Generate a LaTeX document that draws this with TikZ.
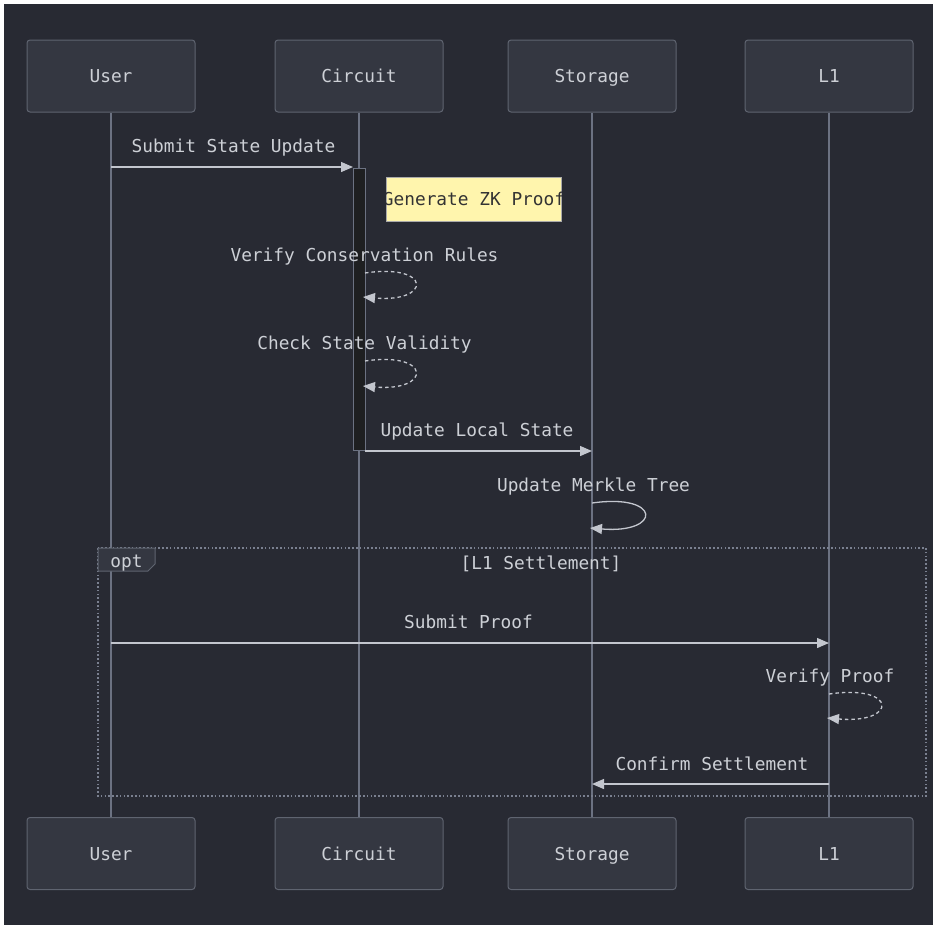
\documentclass[tikz,border=0pt]{standalone}
\usepackage{fontspec}
\setmonofont{DejaVu Sans Mono}
\usetikzlibrary{arrows.meta}
\definecolor{bgc}{HTML}{282A33}
\definecolor{actfill}{HTML}{343741}
\definecolor{actborder}{HTML}{5F6470}
\definecolor{lifec}{HTML}{6C7282}
\definecolor{txtc}{HTML}{CDD0D6}
\definecolor{msgc}{HTML}{C3C6CE}
\definecolor{notefill}{HTML}{FFF5AD}
\definecolor{noteborder}{HTML}{AAAAAA}
\definecolor{activfill}{HTML}{1E1F21}
\definecolor{framec}{HTML}{7A8090}
\tikzset{
  lbl/.style={font=\ttfamily\fontsize{17.8}{20}\selectfont, text=txtc, inner sep=0pt, anchor=base},
  actor/.style={draw=actborder, fill=actfill, rounded corners=3pt, line width=1pt,
    minimum width=168pt, minimum height=72pt, inner sep=0pt},
  life/.style={draw=lifec, line width=1.5pt},
  msg/.style={draw=msgc, line width=1.3pt, -{Triangle[length=12pt,width=10pt]}},
  dmsg/.style={msg, dash pattern=on 3.5pt off 3pt},
  activ/.style={draw=lifec, fill=activfill, line width=1pt, minimum width=12pt, minimum height=282pt, inner sep=0pt},
  notebox/.style={draw=noteborder, fill=notefill, line width=1pt, minimum width=175pt, minimum height=44pt, inner sep=0pt},
}
\begin{document}
\begin{tikzpicture}[x=1pt,y=-1pt]
\useasboundingbox (0,0) rectangle (933,924);
\fill[white] (-5,-5) rectangle (940,930);
\fill[bgc] (4,4) rectangle (940,930);

% actors top
\node[actor] (ut) at (111,76) {};
\node[actor] (ct) at (359,76) {};
\node[actor] (st) at (592,76) {};
\node[actor] (lt) at (829,76) {};
% actors bottom
\node[actor] (ub) at (111,853.5) {};
\node[actor] (cb) at (359,853.5) {};
\node[actor] (sb) at (592,853.5) {};
\node[actor] (lb) at (829,853.5) {};

\node[lbl] (utl) at (111,82) {User};
\node[lbl] (ctl) at (359,82) {Circuit};
\node[lbl] (stl) at (592,82) {Storage};
\node[lbl] (ltl) at (829,82) {L1};
\node[lbl] (ubl) at (111,860) {User};
\node[lbl] (cbl) at (359,860) {Circuit};
\node[lbl] (sbl) at (592,860) {Storage};
\node[lbl] (lbl1) at (829,860) {L1};

% lifelines
\draw[life] (ut.south) -- (ub.north);
\draw[life] (ct.south) -- (cb.north);
\draw[life] (st.south) -- (sb.north);
\draw[life] (lt.south) -- (lb.north);

% activation
\node[activ] (act) at (359,309) {};

% coordinates
\coordinate (m1s) at (111,167);
\coordinate (m1e) at (353,167);
\coordinate (l1s) at (365,273);
\coordinate (l1e) at (363,297);
\coordinate (l2s) at (365,361);
\coordinate (l2e) at (363,386);
\coordinate (m2s) at (365,451);
\coordinate (m2e) at (592,451);
\coordinate (l3s) at (592,503);
\coordinate (l3e) at (590,528);
\coordinate (m3s) at (111,643);
\coordinate (m3e) at (829,643);
\coordinate (l4s) at (829,694);
\coordinate (l4e) at (827,718);
\coordinate (m4s) at (829,784);
\coordinate (m4e) at (592,784);

% message 1
\node[lbl] (t1) at (233.5,152) {Submit State Update};
\draw[msg] (m1s) -- (m1e);

% note
\node[notebox] (note) at (473.5,199) {};
\begin{scope}
\clip (386,177) rectangle (561,221);
\node[lbl, text=black!80] (notet) at (474,205.5) {Generate ZK Proof};
\end{scope}

% self loops
\node[lbl] (t2) at (364.5,261) {Verify Conservation Rules};
\draw[dmsg] (l1s) .. controls (432,263) and (432,303) .. (l1e);
\node[lbl] (t3) at (364.5,349) {Check State Validity};
\draw[dmsg] (l2s) .. controls (432,351) and (432,392) .. (l2e);

% message 2
\node[lbl] (t4) at (477,436) {Update Local State};
\draw[msg] (m2s) -- (m2e);

\node[lbl] (t5) at (593.5,491) {Update Merkle Tree};
\draw[msg] (l3s) .. controls (662,493) and (662,534) .. (l3e);

% opt frame
\draw[framec, line width=1.6pt, dash pattern=on 1.6pt off 2.2pt] (98,548) rectangle (926,796);
\draw[actborder, fill=actfill, line width=1pt] (98,548) -- (155,548) -- (155,564) -- (148,571) -- (98,571) -- cycle;
\node[lbl] (optl) at (126.5,567) {opt};
\node[lbl] (cond) at (541,569) {[L1 Settlement]};

\node[lbl] (t6) at (468.5,628) {Submit Proof};
\draw[msg] (m3s) -- (m3e);

\node[lbl] (t7) at (830,682) {Verify Proof};
\draw[dmsg] (l4s) .. controls (898,684) and (898,724) .. (l4e);

\node[lbl] (t8) at (712,770) {Confirm Settlement};
\draw[msg] (m4s) -- (m4e);
\end{tikzpicture}
\end{document}
